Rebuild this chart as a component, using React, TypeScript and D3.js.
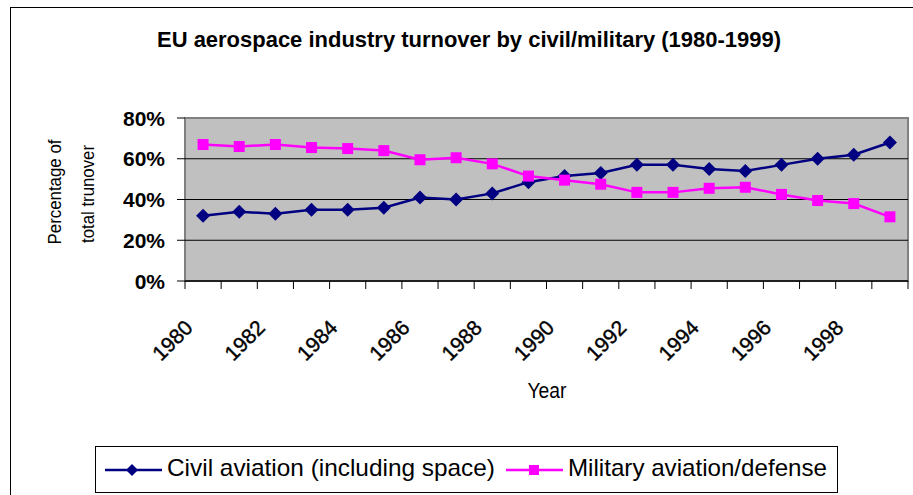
import React from "react";
import * as d3 from "d3";

const years = [1980,1981,1982,1983,1984,1985,1986,1987,1988,1989,1990,1991,1992,1993,1994,1995,1996,1997,1998,1999];
const civil = [32,34,33,35,35,36,41,40,43,48.5,51.5,53,57,57,55,54,57,60,62,68];
const military = [67,66,67,65.5,65,64,59.5,60.5,57.5,51.5,49.5,47.5,43.5,43.5,45.5,46,42.5,39.5,38,31.5];
const yTicks = [0,20,40,60,80];
const tickYears = [1980,1982,1984,1986,1988,1990,1992,1994,1996,1998];
const title = "EU aerospace industry turnover by civil/military (1980-1999)";
const seriesNames = ["Civil aviation (including space)", "Military aviation/defense"];

const ARIAL = "'Liberation Sans', Arial, sans-serif";

export default function App() {
  const W = 913, H = 495;
  const x0 = 185, x1 = 908, yTop = 118, yBot = 281;
  const xb = d3.scaleBand<number>().domain(years).range([x0, x1]).padding(0);
  const cx = (yr: number) => (xb(yr) as number) + xb.bandwidth() / 2;
  const y = d3.scaleLinear().domain([0, 80]).range([yBot, yTop]);
  const line = d3.line<number>().x((_, i) => cx(years[i])).y((d) => y(d));
  const diamond = (s: number) => `M0,${-s}L${s},0L0,${s}L${-s},0Z`;
  const boundaries = d3.range(years.length + 1).map((i) => x0 + i * xb.step());

  return (
    <svg width={W} height={H} style={{ position: "absolute", left: 0, top: 0, background: "#fff" }}>
      <rect x={10.5} y={7.5} width={1000} height={600} fill="#fff" stroke="#000" strokeWidth={1} />
      <text x={469} y={47} textAnchor="middle" fontFamily={ARIAL} fontWeight="bold" fontSize={22} fill="#000" textLength={624} lengthAdjust="spacingAndGlyphs">{title}</text>
      {/* plot area */}
      <rect x={x0} y={yTop} width={x1 - x0} height={yBot - yTop} fill="#C0C0C0" stroke="#808080" strokeWidth={2} />
      {yTicks.filter((t) => t > 0 && t < 80).map((t) => (
        <line key={t} x1={x0} x2={x1} y1={y(t)} y2={y(t)} stroke="#000" strokeWidth={1.2} />
      ))}
      <line x1={x0} x2={x1} y1={yBot} y2={yBot} stroke="#000" strokeWidth={1.5} />
      {/* y axis ticks and labels */}
      {yTicks.map((t) => (
        <g key={t}>
          <line x1={x0 - 8} x2={x0} y1={y(t)} y2={y(t)} stroke="#000" strokeWidth={1} />
          <text x={165} y={y(t)} dy="0.36em" textAnchor="end" fontFamily={ARIAL} fontWeight="bold" fontSize={21} fill="#000">{t}%</text>
        </g>
      ))}
      {boundaries.map((bx, i) => (
        <line key={i} x1={bx} x2={bx} y1={yBot} y2={yBot + 8} stroke="#000" strokeWidth={1} />
      ))}
      {tickYears.map((yr) => (
        <text key={yr} transform={`translate(${cx(yr) - 9},${329}) rotate(-45)`} textAnchor="end" fontFamily={ARIAL} fontSize={21} fill="#000" stroke="#000" strokeWidth={0.4}>{yr}</text>
      ))}
      <text x={547} y={398} textAnchor="middle" fontFamily={ARIAL} fontSize={22} fill="#000" textLength={39} lengthAdjust="spacingAndGlyphs">Year</text>
      <text transform="translate(61,192) rotate(-90)" textAnchor="middle" fontFamily={ARIAL} fontSize={18} fill="#000" textLength={105} lengthAdjust="spacingAndGlyphs">Percentage of</text>
      <text transform="translate(94,194) rotate(-90)" textAnchor="middle" fontFamily={ARIAL} fontSize={18} fill="#000" textLength={98} lengthAdjust="spacingAndGlyphs">total trunover</text>
      {/* series */}
      <path d={line(civil) || ""} fill="none" stroke="#000080" strokeWidth={2.5} />
      {civil.map((v, i) => (
        <path key={i} d={diamond(7)} transform={`translate(${cx(years[i])},${y(v)})`} fill="#000080" />
      ))}
      <path d={line(military) || ""} fill="none" stroke="#FF00FF" strokeWidth={2.5} />
      {military.map((v, i) => (
        <rect key={i} x={cx(years[i]) - 5.5} y={y(v) - 5.5} width={11} height={11} fill="#FF00FF" />
      ))}
      {/* legend */}
      <rect x={95.5} y={446.5} width={742} height={46} fill="#fff" stroke="#000" strokeWidth={1} />
      <line x1={105} x2={162} y1={470} y2={470} stroke="#000080" strokeWidth={2.5} />
      <path d={diamond(6)} transform="translate(132,470)" fill="#000080" />
      <text x={167} y={476} fontFamily={ARIAL} fontSize={24} fill="#000" textLength={328} lengthAdjust="spacingAndGlyphs">{seriesNames[0]}</text>
      <line x1={506} x2={563} y1={470} y2={470} stroke="#FF00FF" strokeWidth={2.5} />
      <rect x={529} y={465} width={10} height={10} fill="#FF00FF" />
      <text x={568} y={476} fontFamily={ARIAL} fontSize={24} fill="#000" textLength={259} lengthAdjust="spacingAndGlyphs">{seriesNames[1]}</text>
    </svg>
  );
}
